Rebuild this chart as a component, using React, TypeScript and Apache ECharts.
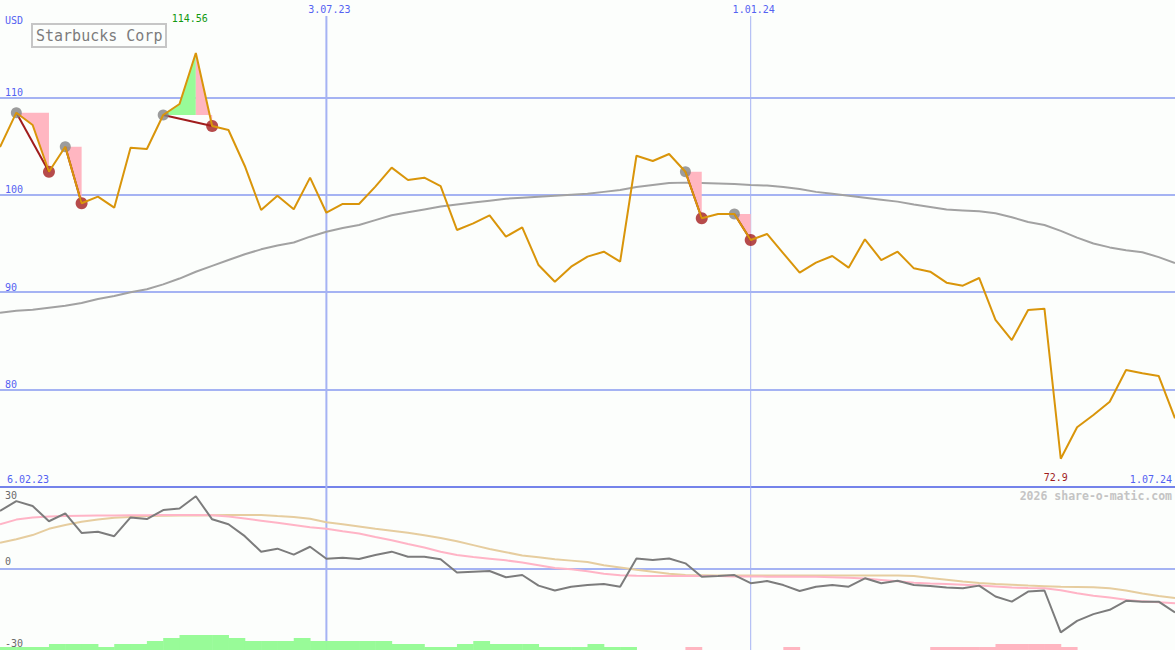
import React, { useEffect, useRef } from 'react';
import * as echarts from 'echarts';

// ---- data (weekly points, index 0..72) ----
const titleText = 'Starbucks Corp';
const currency = 'USD';
const startLabel = '6.02.23';
const endLabel = '1.07.24';
const watermark = '2026 share-o-matic.com';
const dateMarkIndex = [20, 46];
const dateMarkLabels = ['3.07.23', '1.01.24'];

const price = [
  104.9, 108.43, 107.17, 102.37, 104.94, 99.13, 99.81, 98.68, 104.84, 104.7,
  108.19, 109.32, 114.56, 107.06, 106.65, 102.96, 98.44, 99.91, 98.51, 101.76,
  98.16, 99.06, 99.06, 100.84, 102.79, 101.52, 101.76, 100.9, 96.39, 97.07,
  97.89, 95.7, 96.66, 92.79, 91.08, 92.62, 93.65, 94.16, 93.13, 104.01,
  103.47, 104.19, 102.37, 97.59, 98.03, 98.03, 95.36, 95.98, 93.99, 92.0,
  93.03, 93.72, 92.52, 95.43, 93.3, 94.16, 92.45, 92.11, 90.98, 90.67,
  91.46, 87.15, 85.09, 88.17, 88.31, 72.9, 76.13, 77.39, 78.76, 82.01,
  81.67, 81.4, 77.05,
];

const movingAvg = [
  87.9, 88.1, 88.2, 88.4, 88.6, 88.9, 89.3, 89.6, 90.0, 90.3,
  90.8, 91.4, 92.1, 92.7, 93.3, 93.9, 94.4, 94.8, 95.1, 95.7,
  96.2, 96.6, 96.9, 97.4, 97.9, 98.2, 98.5, 98.8, 99.0, 99.2,
  99.4, 99.6, 99.7, 99.8, 99.9, 100.0, 100.1, 100.3, 100.5, 100.8,
  101.0, 101.2, 101.25, 101.2, 101.15, 101.1, 101.0, 100.95, 100.8, 100.6,
  100.3, 100.1, 99.9, 99.7, 99.5, 99.3, 99.0, 98.75, 98.5, 98.4,
  98.3, 98.1, 97.7, 97.2, 96.9, 96.3, 95.6, 95.0, 94.6, 94.3,
  94.1, 93.6, 93.0,
];

const momentum = [
  21.2, 24.8, 23.0, 17.4, 20.3, 13.1, 13.5, 11.9, 18.8, 18.2,
  21.5, 22.1, 26.6, 18.1, 16.3, 11.9, 6.2, 7.3, 5.1, 8.0,
  3.6, 4.0, 3.5, 5.0, 6.2, 4.3, 4.3, 3.4, -1.5, -1.2,
  -0.9, -3.2, -2.4, -6.3, -8.1, -6.7, -6.1, -5.7, -6.7, 3.7,
  3.1, 3.7, 1.9, -3.0, -2.8, -2.4, -5.4, -4.6, -6.1, -8.3,
  -6.7, -6.1, -6.7, -3.6, -5.4, -4.5, -6.1, -6.4, -7.0, -7.3,
  -6.3, -10.3, -12.2, -8.5, -8.1, -23.5, -19.3, -16.8, -15.2, -11.9,
  -12.2, -12.2, -16.2,
];

const signalFast = [
  16.3, 18.0, 18.8, 19.1, 19.3, 19.4, 19.5, 19.5, 19.6, 19.6,
  19.7, 19.7, 19.7, 19.6, 19.1, 18.4, 17.6, 16.8, 16.0, 15.2,
  14.6, 13.7, 12.9, 11.6, 10.4, 9.0, 7.7, 6.2, 5.0, 4.2,
  3.6, 3.0, 2.2, 1.2, 0.2, -0.3, -1.0, -1.9, -2.5, -2.7,
  -2.8, -2.8, -2.8, -2.8, -2.8, -2.9, -2.9, -3.0, -2.9, -3.0,
  -3.0, -3.2, -3.4, -3.7, -4.2, -4.7, -5.2, -5.5, -5.7, -6.0,
  -6.3, -6.6, -7.0, -7.2, -7.3, -8.0, -9.1, -10.0, -10.7, -11.5,
  -12.1, -12.4, -12.8,
];

const signalSlow = [
  9.5, 10.8, 12.3, 14.6, 16.0, 17.2, 18.0, 18.7, 19.0, 19.3,
  19.4, 19.5, 19.5, 19.6, 19.7, 19.7, 19.7, 19.3, 19.0, 18.3,
  17.0, 16.3, 15.5, 14.6, 13.9, 13.2, 12.2, 11.2, 10.0, 8.6,
  7.2, 6.0, 4.8, 4.1, 3.4, 2.9, 2.4, 1.2, 0.4, -0.5,
  -1.2, -1.9, -2.4, -2.5, -2.6, -2.6, -2.6, -2.6, -2.6, -2.6,
  -2.6, -2.6, -2.6, -2.6, -2.6, -2.6, -2.8, -3.5, -4.1, -4.8,
  -5.3, -5.7, -6.0, -6.3, -6.5, -6.7, -6.8, -6.9, -7.3, -8.1,
  -9.2, -10.1, -10.9,
];

// histogram levels for each interval [k, k+1]
const histogram = [
  1, 1, 1, 2, 2, 2, 1, 2, 2, 3,
  4, 5, 5, 5, 4, 3, 3, 3, 4, 3,
  3, 3, 3, 3, 2, 2, 1, 1, 2, 3,
  2, 2, 2, 1, 1, 1, 2, 1, 1, 0,
  0, 0, -1, 0, 0, 0, 0, 0, -1, 0,
  0, 0, 0, 0, 0, 0, 0, -1, -1, -1,
  -1, -2, -2, -2, -2, -1, 0, 0, 0, 0,
  0, 0,
];

const tradeEntries = [1, 4, 10, 42, 45];
const tradeExits = [3, 5, 13, 43, 46];

// ---- styles ----
const FONT = '"DejaVu Sans Mono", monospace';
const BLUE = '#5462f2';
const GRID = '#a5b3f3';
const dateLineWidths = [2, 1];

export default function App() {
  const ref = useRef<HTMLDivElement>(null);

  useEffect(() => {
    const chart = echarts.init(ref.current!, null, { renderer: 'svg' });
    const pts = (arr: number[]) => arr.map((v, i) => [i, v]);
    const N = price.length - 1;

    const option: any = {
      animation: false,
      backgroundColor: '#fcfefc',
      title: {
        text: titleText,
        left: 32,
        top: 24,
        padding: [4, 4, 3, 4],
        borderColor: '#c6c6c6',
        borderWidth: 2,
        textStyle: { fontFamily: FONT, fontSize: 15, fontWeight: 'normal', color: '#7c7c7c', lineHeight: 16 },
      },
      graphic: [
        { type: 'text', left: 5, top: 15, style: { text: currency, fill: BLUE, font: `10px ${FONT}` } },
        { type: 'text', left: 7, top: 474, style: { text: startLabel, fill: BLUE, font: `10px ${FONT}` } },
        { type: 'text', right: 3, top: 474, style: { text: endLabel, fill: BLUE, font: `10px ${FONT}` } },
        { type: 'text', right: 3, top: 490, style: { text: watermark, fill: '#c4c4c4', font: `bold 11.5px ${FONT}` } },
      ],
      grid: [
        { left: 0, right: 0, top: 0, height: 487 },
        { left: 0, right: 0, top: 487, height: 163 },
        { left: 0, right: 0, top: 635, height: 15 },
      ],
      xAxis: [
        {
          gridIndex: 0, type: 'value', min: 0, max: N,
          axisLine: { show: true, onZero: false, lineStyle: { color: '#7483ea', width: 2 } },
          axisTick: { show: false }, axisLabel: { show: false }, splitLine: { show: false },
        },
        { gridIndex: 1, type: 'value', min: 0, max: N, show: false },
        { gridIndex: 2, type: 'value', min: 0, max: N, show: false },
      ],
      yAxis: [
        {
          gridIndex: 0, type: 'value', position: 'left', min: 70, max: 120, interval: 10,
          axisLine: { show: false }, axisTick: { show: false },
          axisLabel: {
            inside: true, verticalAlign: 'bottom', margin: 5, color: BLUE,
            fontFamily: FONT, fontSize: 10, showMinLabel: false, showMaxLabel: false,
          },
          splitLine: { show: true, showMinLine: false, showMaxLine: false, lineStyle: { color: GRID, width: 2 } },
        },
        {
          gridIndex: 1, type: 'value', position: 'left', min: -30, max: 30, interval: 30,
          axisLine: { show: false }, axisTick: { show: false },
          axisLabel: {
            inside: true, verticalAlign: 'bottom', margin: 5, color: '#6a6a6a',
            fontFamily: FONT, fontSize: 10, showMaxLabel: false, padding: [0, 0, 2, 0],
          },
          splitLine: { show: true, showMinLine: false, showMaxLine: false, lineStyle: { color: GRID, width: 2 } },
        },
        {
          gridIndex: 1, type: 'value', position: 'left', offset: 0, min: -30, max: 30, interval: 30,
          axisLine: { show: false }, axisTick: { show: false },
          axisLabel: {
            inside: true, verticalAlign: 'top', margin: 5, color: '#6a6a6a',
            fontFamily: FONT, fontSize: 10, padding: [3, 0, 0, 0],
            formatter: (v: number) => (v === 30 ? '30' : ''),
          },
          splitLine: { show: false },
        },
        { gridIndex: 2, type: 'value', min: 0, max: 5, show: false },
      ],
      series: [
        {
          type: 'custom', name: 'dates', xAxisIndex: 0, yAxisIndex: 0, z: 1, silent: true,
          data: dateMarkIndex.map((x, i) => [x, i]),
          renderItem: (params: any, api: any) => {
            const i = api.value(1);
            const x = api.coord([api.value(0), 100])[0];
            const cs = params.coordSys;
            return {
              type: 'group',
              children: [
                { type: 'line', shape: { x1: x, y1: cs.y + 16, x2: x, y2: api.getHeight() },
                  style: { stroke: GRID, lineWidth: dateLineWidths[i] } },
                { type: 'text', style: { text: dateMarkLabels[i], x: x + 3, y: cs.y + 9, align: 'center',
                  verticalAlign: 'middle', fill: BLUE, font: `10px ${FONT}` } },
              ],
            };
          },
        },
        {
          type: 'line', name: 'MA', xAxisIndex: 0, yAxisIndex: 0, z: 2, data: pts(movingAvg),
          showSymbol: false, lineStyle: { color: '#a2a2a2', width: 2 },
        },
        {
          type: 'custom', name: 'trades', xAxisIndex: 0, yAxisIndex: 0, z: 3, silent: true,
          data: tradeEntries.map((a, i) => [a, tradeExits[i]]),
          renderItem: (params: any, api: any) => {
            const i0 = api.value(0);
            const i1 = api.value(1);
            const e = price[i0];
            let ip = i0;
            for (let k = i0; k <= i1; k++) if (price[k] > price[ip]) ip = k;
            const children: any[] = [];
            if (ip > i0) {
              const p: number[][] = [api.coord([i0, e])];
              for (let k = i0; k <= ip; k++) p.push(api.coord([k, price[k]]));
              p.push(api.coord([ip, e]));
              children.push({ type: 'polygon', shape: { points: p }, style: { fill: '#98fb98' } });
            }
            if (i1 > ip) {
              const p: number[][] = [api.coord([ip, e])];
              for (let k = ip; k <= i1; k++) p.push(api.coord([k, price[k]]));
              p.push(api.coord([i1, e]));
              children.push({ type: 'polygon', shape: { points: p }, style: { fill: '#ffb6c1' } });
            }
            const a = api.coord([i0, e]);
            const b = api.coord([i1, price[i1]]);
            children.push({ type: 'line', shape: { x1: a[0], y1: a[1], x2: b[0], y2: b[1] },
              style: { stroke: '#a01c1c', lineWidth: 2 } });
            return { type: 'group', children };
          },
        },
        {
          type: 'scatter', name: 'entry', xAxisIndex: 0, yAxisIndex: 0, z: 4, symbolSize: 11,
          data: tradeEntries.map((k) => [k, price[k]]), itemStyle: { color: '#838383' },
        },
        {
          type: 'scatter', name: 'exit', xAxisIndex: 0, yAxisIndex: 0, z: 5, symbolSize: 12,
          data: tradeExits.map((k) => [k, price[k]]), itemStyle: { color: '#a41e1e' },
        },
        {
          type: 'line', name: 'price', xAxisIndex: 0, yAxisIndex: 0, z: 6, data: pts(price),
          showSymbol: false, lineStyle: { color: '#d9950a', width: 2 },
          markPoint: {
            symbol: 'circle', symbolSize: 0, silent: true,
            label: { show: true, position: 'inside', fontFamily: FONT, fontSize: 10,
              formatter: (p: any) => String(p.value) },
            data: [
              { type: 'max', label: { offset: [-6, -34], color: '#119911' } },
              { type: 'min', label: { offset: [-5, 19], color: '#a01c1c' } },
            ],
          },
        },
        {
          type: 'line', name: 'slow', xAxisIndex: 1, yAxisIndex: 1, z: 2, data: pts(signalSlow),
          showSymbol: false, lineStyle: { color: '#e6cd9f', width: 2 },
        },
        {
          type: 'line', name: 'fast', xAxisIndex: 1, yAxisIndex: 1, z: 3, data: pts(signalFast),
          showSymbol: false, lineStyle: { color: '#ffb4c6', width: 2 },
        },
        {
          type: 'line', name: 'momentum', xAxisIndex: 1, yAxisIndex: 1, z: 4, data: pts(momentum),
          showSymbol: false, lineStyle: { color: '#7c7c7c', width: 2 },
        },
        {
          type: 'custom', name: 'histogram', xAxisIndex: 2, yAxisIndex: 3, z: 2, silent: true,
          data: histogram.map((v, k) => [k, v]),
          renderItem: (params: any, api: any) => {
            const k = api.value(0);
            const v = api.value(1);
            if (!v) return { type: 'group', children: [] };
            const p0 = api.coord([k, 0]);
            const p1 = api.coord([k + 1, Math.abs(v)]);
            return {
              type: 'rect',
              shape: { x: p0[0], y: p1[1], width: p1[0] - p0[0] + 0.5, height: p0[1] - p1[1] },
              style: { fill: v > 0 ? '#98fb98' : '#ffb6c1' },
            };
          },
        },
      ],
    };

    chart.setOption(option);
    return () => chart.dispose();
  }, []);

  return <div ref={ref} style={{ position: 'fixed', left: 0, top: 0, width: 1175, height: 650 }} />;
}
